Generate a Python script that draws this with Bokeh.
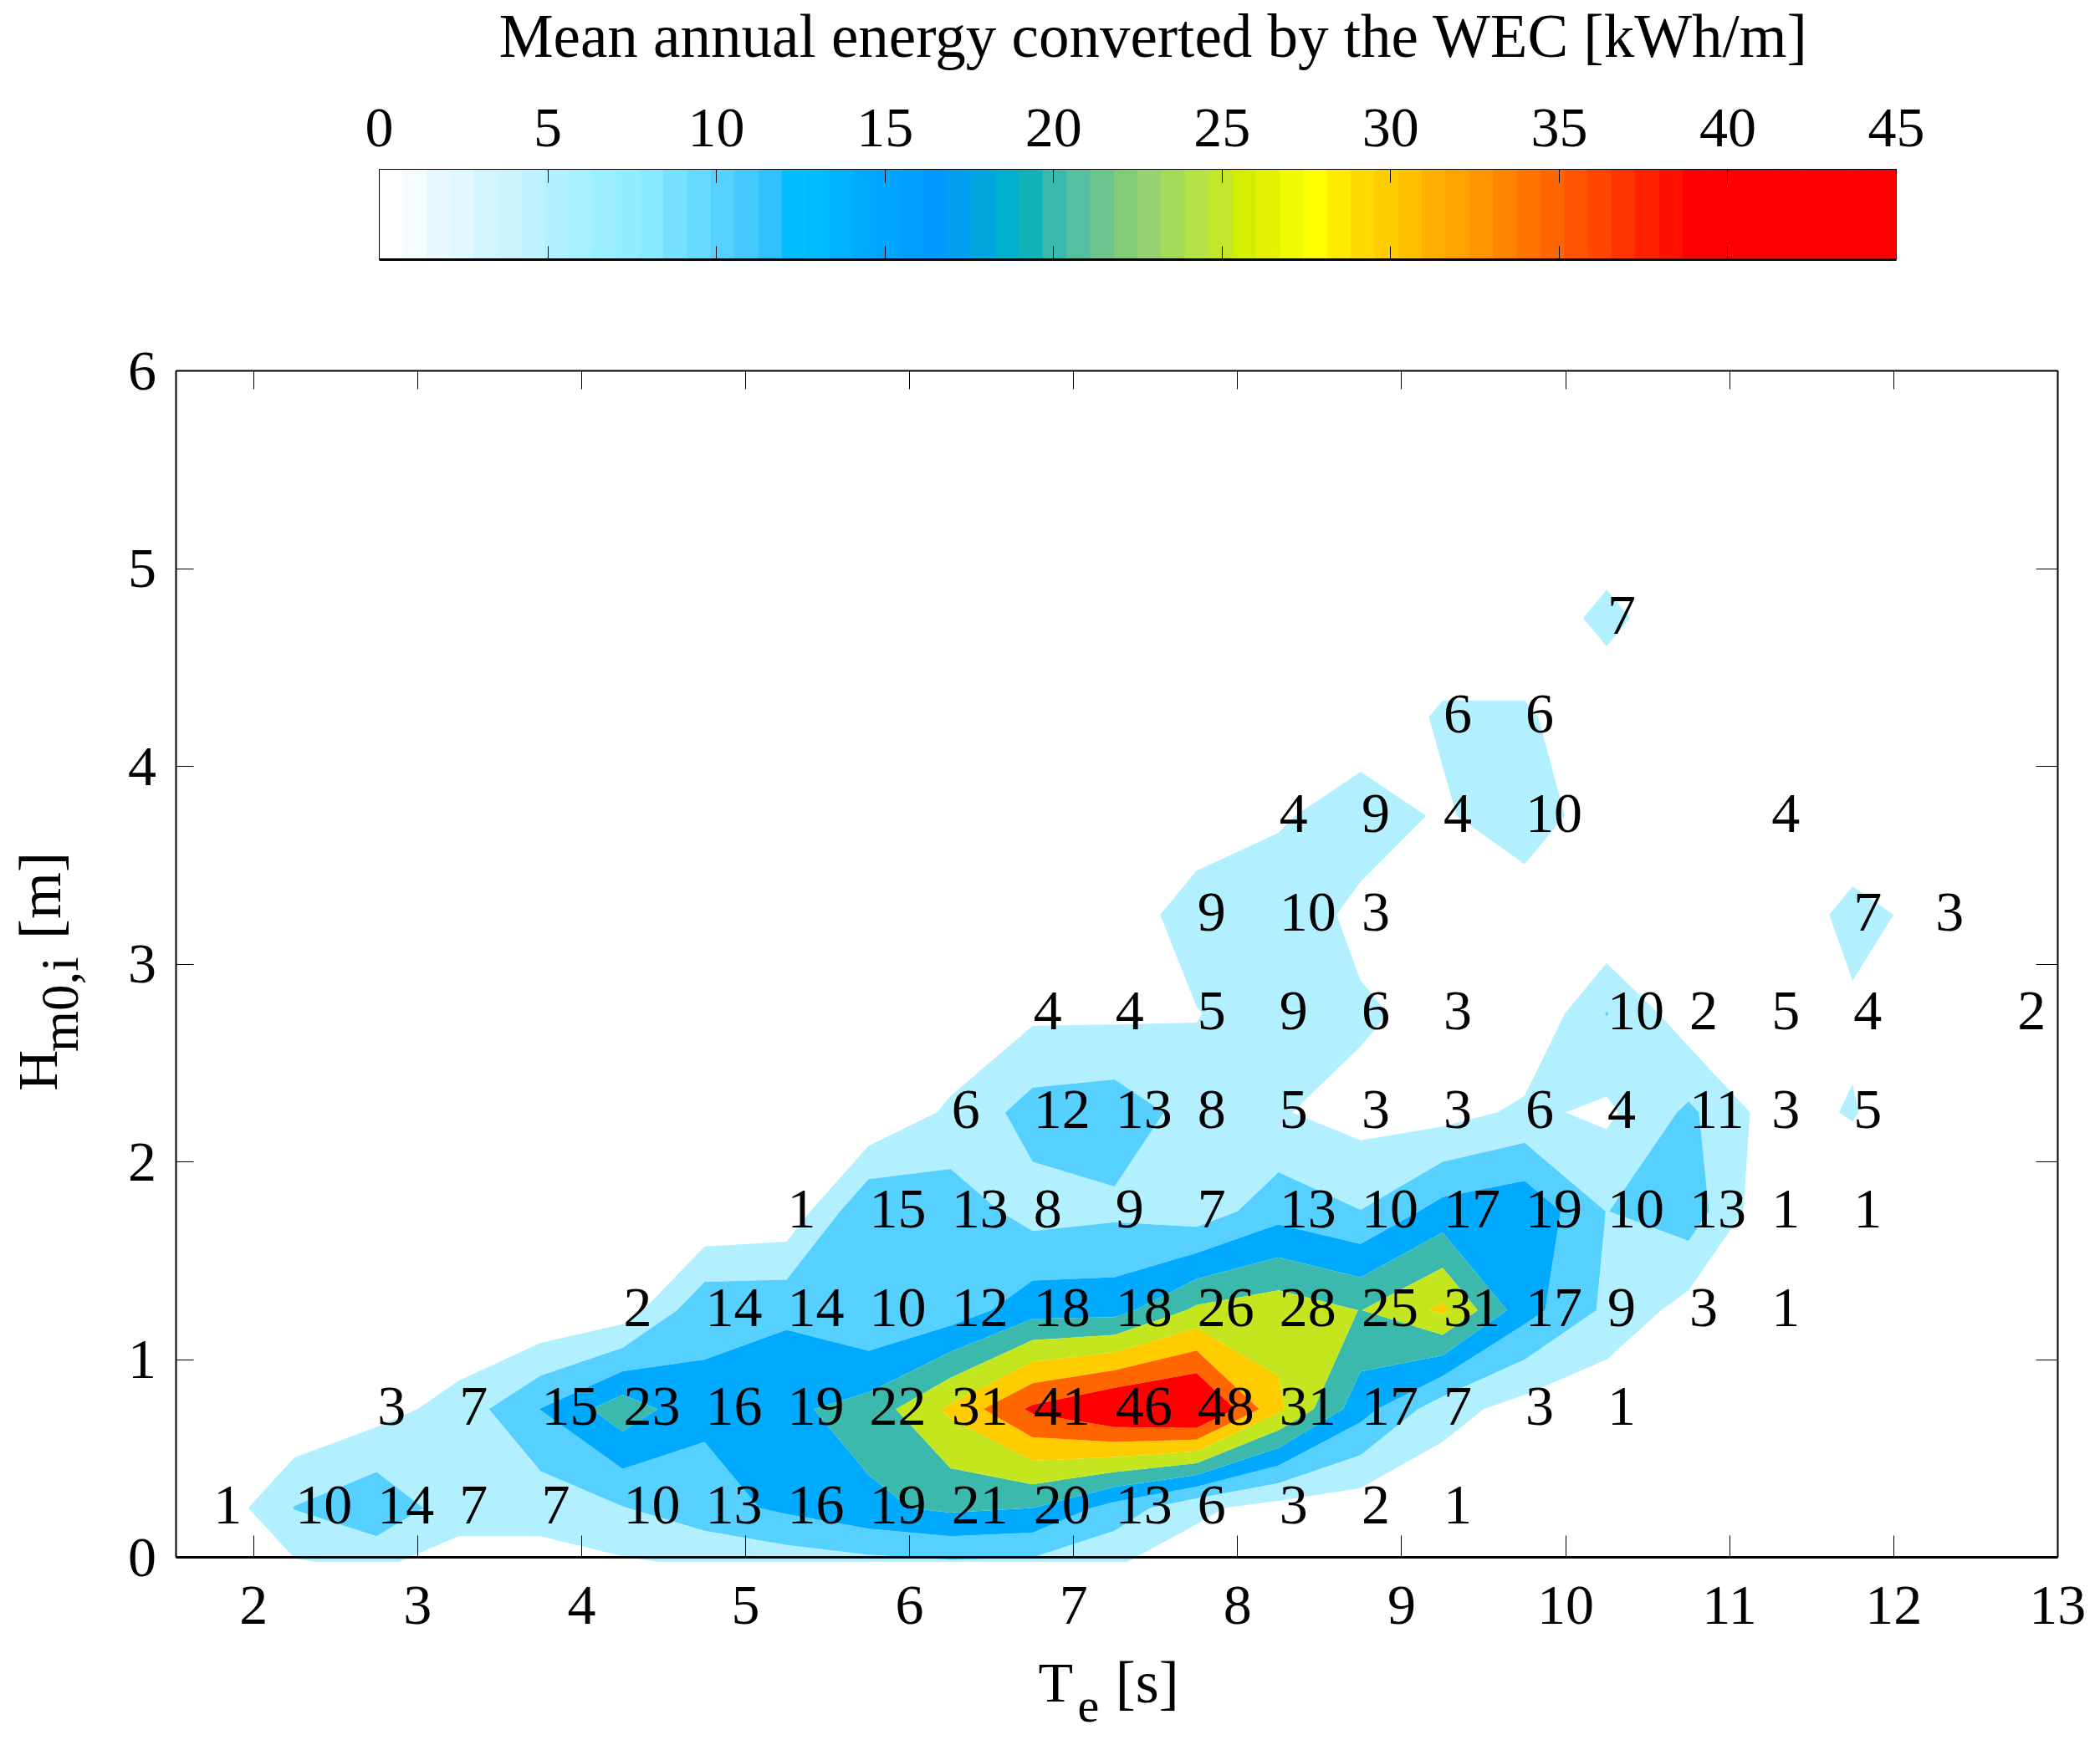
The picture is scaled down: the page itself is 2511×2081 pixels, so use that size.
import numpy as np
from bokeh.embed import file_html
from bokeh.models import ColumnDataSource, FixedTicker, LinearAxis, Range1d
from bokeh.plotting import figure
from bokeh.resources import INLINE
from bokeh.core.properties import value

FONT = "Liberation Serif"

# cell centres of the scatter table
te = [1.75, 2.25, 2.75, 3.25, 3.75, 4.25, 4.75, 5.25, 5.75, 6.25, 6.75, 7.25,
      7.75, 8.25, 8.75, 9.25, 9.75, 10.25, 10.75, 11.25, 11.75, 12.25, 12.75]
hm0 = [0.25, 0.75, 1.25, 1.75, 2.25, 2.75, 3.25, 3.75, 4.25, 4.75]

h025 = [1, 10.2, 14, 7, 7, 9.8, 13, 16, 19, 21, 20, 13, 6, 3, 2, 1, 0, 0, 0, 0, 0, 0, 0]
h075 = [0, 0, 3, 7, 15.1, 23, 16, 19, 22, 31, 41, 46, 48, 31, 17, 7, 3, 1, 0, 0, 0, 0, 0]
h125 = [0, 0, 0, 0, 0, 2, 14, 14, 10.1, 12, 18, 18, 26, 28, 24.9, 31, 17, 9, 3, 1, 0, 0, 0]
h175 = [0, 0, 0, 0, 0, 0, 0, 1, 14.8, 13, 8, 9, 7, 13, 10.1, 17, 19, 9.9, 13, 1, 1, 0, 0]
h225 = [0, 0, 0, 0, 0, 0, 0, 0, 0, 6, 12, 13, 8, 5.4, 3, 3, 6, 4, 11, 3, 5.4, 0, 0]
h275 = [0, 0, 0, 0, 0, 0, 0, 0, 0, 0, 4, 4, 4.7, 9, 6, 3, 0, 10.2, 2, 4.6, 4, 0, 2]
h325 = [0, 0, 0, 0, 0, 0, 0, 0, 0, 0, 0, 0, 9, 9.8, 3, 0, 0, 0, 0, 0, 7, 3, 0]
h375 = [0, 0, 0, 0, 0, 0, 0, 0, 0, 0, 0, 0, 0, 4, 9, 4, 9.8, 0, 0, 4, 0, 0, 0]
h425 = [0, 0, 0, 0, 0, 0, 0, 0, 0, 0, 0, 0, 0, 0, 0, 6, 6, 0, 0, 0, 0, 0, 0]
h475 = [0, 0, 0, 0, 0, 0, 0, 0, 0, 0, 0, 0, 0, 0, 0, 0, 0, 7, 0, 0, 0, 0, 0]

x_ticks = [2, 3, 4, 5, 6, 7, 8, 9, 10, 11, 12, 13]
y_ticks = [0, 1, 2, 3, 4, 5, 6]
cb_ticks = [0, 5, 10, 15, 20, 25, 30, 35, 40, 45]

levels = [5, 10, 15, 20, 25, 30, 35, 40, 50]
band_colors = ["#B3F0FF", "#55D0FF", "#00AAFF", "#3CB9AD", "#C3E61E", "#FFCC00", "#FF6600", "#FF0000"]

# 64 entry colour map of the colour bar
cmap = ["#FFFFFF", "#F5FDFF", "#E8FAFF", "#E0F8FF", "#D2F5FF", "#CBF4FF", "#BFF2FF", "#B3F0FF",
        "#A8EFFF", "#9CEFFF", "#92EDFF", "#88E9FF", "#76E0FF", "#66DAFF", "#55D0FF", "#44CAFF",
        "#30C2FF", "#00BFFF", "#00BBFF", "#00B2FF", "#00ABFF", "#00A5FF", "#00A0FF", "#0099FF",
        "#00A0EE", "#00A6DD", "#00B0CF", "#10B4B8", "#3CB9AD", "#56BFA0", "#6BC48C", "#82CC78",
        "#96D272", "#A3DA58", "#B5E245", "#C4E62A", "#D5EE00", "#E2F200", "#F0FA00", "#FFFF00",
        "#FFEB00", "#FFDC00", "#FFCC00", "#FFC000", "#FFB000", "#FFA300", "#FF9500", "#FF8500",
        "#FF7500", "#FF6600", "#FF5500", "#FF4500", "#FF3300", "#FF2000", "#FF1000", "#FF0000",
        "#FF0000", "#FF0000", "#FF0000", "#FF0000", "#FF0000", "#FF0000", "#FF0000", "#FF0000"]

table = np.array([h025, h075, h125, h175, h225, h275, h325, h375, h425, h475], dtype=float)

# zeros all round so that the contours close
te_grid = np.array([te[0] - 0.5] + te + [te[-1] + 0.5])
hm0_grid = np.array([hm0[0] - 0.5] + hm0 + [hm0[-1] + 0.5])
z = np.pad(table, 1)

# The frame fills the canvas: main ranges and colour bar ranges are set up so that
# everything (bar, titles, axes outside the usual frame) sits where the picture has it.
W, H = 2495, 2073
TE_PX, HM_PX = 196.1, 236.5   # pixels per unit
TE2_X, HM0_Y = 302.7, 1862    # canvas position of Te=2 and Hm0=0
CB_X0, CB_PX = 453.0, 1814 / 45
CB_Y0, CB_H = 310.0, 108.0

p = figure(width=W, height=H,
           x_range=Range1d(2 - TE2_X / TE_PX, 2 + (W - TE2_X) / TE_PX),
           y_range=Range1d((HM0_Y - H) / HM_PX, HM0_Y / HM_PX),
           x_axis_location=None, y_axis_location=None,
           output_backend="svg", toolbar_location=None,
           min_border_left=0, min_border_right=0, min_border_top=0, min_border_bottom=0)
p.extra_x_ranges = {"cb": Range1d(-CB_X0 / CB_PX, (W - CB_X0) / CB_PX)}
p.extra_y_ranges = {"cb": Range1d((CB_Y0 - H) / CB_H, CB_Y0 / CB_H)}
p.grid.visible = False
p.outline_line_color = None

# Colour bar
edges = np.linspace(0, 45, len(cmap) + 1)
p.quad(left=edges[:-1], right=edges[1:], bottom=0, top=1, fill_color=cmap, line_color=cmap,
       x_range_name="cb", y_range_name="cb")


def add_axis(place, ticks, fixed, bounds, tick_in, line_width, x_name="default", y_name="default",
             standoff=None):
    ax = LinearAxis(ticker=FixedTicker(ticks=ticks), fixed_location=fixed, bounds=bounds,
                    major_tick_in=tick_in, major_tick_out=0, minor_tick_line_color=None,
                    axis_line_width=line_width, x_range_name=x_name, y_range_name=y_name)
    if standoff is None:
        ax.major_label_text_color = None
    else:
        ax.major_label_standoff = standoff
        ax.major_label_text_font = FONT
        ax.major_label_text_font_size = "68px"
        ax.major_label_text_color = "black"
    p.add_layout(ax, place)


add_axis("above", cb_ticks, 1, (0, 45), 16, 1, "cb", "cb", standoff=28)
add_axis("below", cb_ticks, 0, (0, 45), 16, 3, "cb", "cb")
add_axis("left", [], 0, (0, 1), 0, 1, "cb", "cb")
add_axis("right", [], 45, (0, 1), 0, 1, "cb", "cb")

# Contour plot
p.contour(te_grid, hm0_grid, z, levels, fill_color=band_colors, line_color=None)
# the fill only runs a few pixels past the lower axis
p.quad(left=te_grid[0], right=te_grid[-1], bottom=hm0_grid[0], top=-0.025, color="white")

# printed cell values
lab_x, lab_y, lab_txt = [], [], []
for j, h in enumerate(hm0):
    for i, t in enumerate(te):
        if table[j, i] > 0:
            lab_x.append(t)
            lab_y.append(h)
            lab_txt.append(str(int(round(table[j, i]))))
labels = ColumnDataSource(data=dict(x=lab_x, y=lab_y, txt=lab_txt))
p.text(x="x", y="y", text="txt", source=labels, text_font=value(FONT), text_font_size="68px",
       text_align="left", text_baseline="middle", text_color="black", x_offset=1, y_offset=-3)

add_axis("below", x_ticks, 0, (1.525, 13), 26, 3, standoff=35)
add_axis("above", x_ticks, 6, (1.525, 13), 22, 2)
add_axis("left", y_ticks, 1.525, (0, 6), 21, 2, standoff=23)
add_axis("right", y_ticks, 13, (0, 6), 26, 2)


def add_text(x, y, txt, size, angle=0.0, align="left", **kw):
    p.text(x=[x], y=[y], text=[txt], text_font=value(FONT), text_font_size=size, angle=angle,
           text_align=align, text_baseline="alphabetic", text_color="black", **kw)


add_text(22.97, 2.47, "Mean annual energy converted by the WEC [kWh/m]", "73px", align="center",
         x_range_name="cb", y_range_name="cb")
# axis titles, pieced together for the subscripts
add_text(6.785, -0.632, "T", "68px")
add_text(7.025, -0.75, "e", "58px")
add_text(7.255, -0.632, "[s]", "72px")
add_text(0.685, 2.358, "H", "68px", angle=np.pi / 2)
add_text(0.823, 2.556, "m0,i", "63px", angle=np.pi / 2)
add_text(0.698, 3.127, "[m]", "72px", angle=np.pi / 2)

open("out.html", "w").write(file_html(p, INLINE))
